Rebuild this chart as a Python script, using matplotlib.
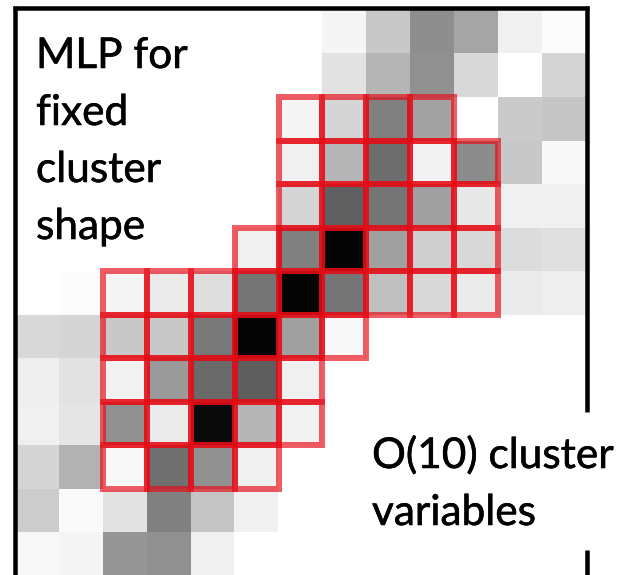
import matplotlib
matplotlib.use("Agg")
import matplotlib.pyplot as plt
import matplotlib.patheffects as pe
from matplotlib.patches import Rectangle
import numpy as np

# ---- data: grey intensity of each pixel cell (0 = black, 255 = white), row by row ----
row00 = [255, 255, 255, 255, 255, 255, 255, 245, 200, 142, 165, 240, 252]
row01 = [255, 255, 255, 255, 255, 255, 255, 226, 181, 144, 216, 255, 213]
row02 = [255, 255, 255, 255, 255, 255, 245, 213, 128, 162, 255, 202, 197]
row03 = [255, 255, 255, 255, 255, 255, 240, 181, 110, 242, 140, 200, 248]
row04 = [255, 255, 255, 255, 255, 255, 213, 96, 117, 160, 232, 240, 240]
row05 = [255, 255, 255, 255, 255, 240, 128, 5, 160, 207, 216, 220, 224]
row06 = [255, 252, 245, 235, 222, 117, 5, 117, 192, 216, 235, 235, 238]
row07 = [216, 213, 200, 200, 120, 5, 160, 248, 255, 255, 255, 255, 255]
row08 = [238, 226, 242, 154, 106, 94, 240, 255, 255, 255, 255, 255, 255]
row09 = [240, 229, 144, 235, 10, 181, 242, 255, 255, 255, 255, 255, 255]
row10 = [213, 178, 248, 112, 144, 240, 255, 255, 255, 255, 255, 255, 255]
row11 = [204, 250, 226, 128, 197, 240, 255, 255, 255, 255, 255, 255, 255]
row12 = [248, 245, 149, 144, 240, 255, 255, 255, 255, 255, 255, 255, 255]

# cluster cells outlined in red: row index -> (first column, last column)
cluster_rows = [2, 3, 4, 5, 6, 7, 8, 9, 10]
cluster_first = [6, 6, 6, 5, 2, 2, 2, 2, 2]
cluster_last = [9, 10, 10, 10, 10, 7, 6, 6, 5]

label_left = ["MLP for", "fixed", "cluster", "shape"]
label_right = ["O(10) cluster", "variables"]

# ---- figure ----
W, H, DPI = 628, 575, 100
fig = plt.figure(figsize=(W / DPI, H / DPI), dpi=DPI)
fig.patch.set_facecolor("white")

image = np.array([row00, row01, row02, row03, row04, row05, row06,
                  row07, row08, row09, row10, row11, row12], dtype=float)

# heatmap axes (grid area in pixels: x 15..586, y 10..575)
gx0, gx1, gy0, gy1 = 15, 586, 10, 575.5
ax = fig.add_axes([gx0 / W, 1 - gy1 / H, (gx1 - gx0) / W, (gy1 - gy0) / H])
ax.imshow(image, cmap="gray", vmin=0, vmax=255, aspect="auto",
          interpolation="nearest")
ax.set_xlim(-0.5, image.shape[1] - 0.5)
ax.set_ylim(image.shape[0] - 0.5, -0.5)
ax.axis("off")

red = "#E60A14"
lw_pt = 6 * 72 / DPI
for r, c0, c1 in zip(cluster_rows, cluster_first, cluster_last):
    for c in range(c0, c1 + 1):
        ax.add_patch(Rectangle((c - 0.5, r - 0.5), 1, 1, fill=False,
                               edgecolor=red, alpha=0.66, linewidth=lw_pt,
                               joinstyle="miter", clip_on=False))

# overlay axes in pixel coordinates for frame and text
ov = fig.add_axes([0, 0, 1, 1])
ov.set_xlim(0, W)
ov.set_ylim(H, 0)
ov.axis("off")
ov.patch.set_alpha(0)

flw = 4.5 * 72 / DPI
ov.plot([13, 589], [8, 8], color="black", lw=flw, solid_capstyle="butt")
ov.plot([15, 15], [6, 580], color="black", lw=flw, solid_capstyle="butt")
ov.plot([586.5, 586.5], [6, 412], color="black", lw=flw, solid_capstyle="butt")
ov.plot([586.5, 586.5], [550, 580], color="black", lw=flw, solid_capstyle="butt")

font = dict(family=["Lato", "DejaVu Sans"], fontsize=30.5, color="black")
thick = [pe.withStroke(linewidth=0.4, foreground="black")]
for i, t in enumerate(label_left):
    ov.text(36, 68 + 57 * i, t, ha="left", va="baseline",
            path_effects=thick, **font)
for i, t in enumerate(label_right):
    ov.text(372, 468 + 57 * i, t, ha="left", va="baseline",
            path_effects=thick, **font)

fig.savefig("out.png", dpi=DPI, facecolor="white")
